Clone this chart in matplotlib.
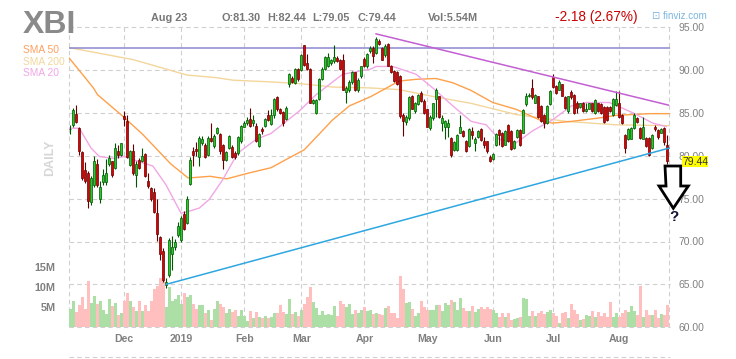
import numpy as np
import matplotlib
matplotlib.use('Agg')
import matplotlib.pyplot as plt
from matplotlib.patches import Polygon, Rectangle
from matplotlib.lines import Line2D

plt.rcParams['font.family'] = ['Liberation Sans', 'DejaVu Sans']

# month ticks (trading-day index of first session in month)
months = ['Dec', '2019', 'Feb', 'Mar', 'Apr', 'May', 'Jun', 'Jul', 'Aug']
month_idx = [18, 37, 58, 77, 98, 119, 141, 161, 183]

# daily OHLC, Nov 6 2018 .. Aug 23 2019
opens = [83.1, 83.6, 84.9, 83.2, 80.4, 78.3, 78.0, 74.6, 76.6, 79.0,
         75.0, 76.9, 76.9, 79.0, 79.4, 78.6, 80.5, 80.1, 84.6, 84.1,
         78.9, 80.5, 77.8, 79.5, 79.4, 80.2, 77.1, 76.2, 75.8, 73.3,
         70.5, 68.9, 64.9, 66.1, 68.6, 69.4, 70.8, 70.2, 73.2, 72.2,
         76.7, 80.5, 80.8, 79.9, 81.5, 81.2, 80.1, 82.1, 81.1, 82.7,
         82.5, 81.3, 79.5, 80.9, 81.0, 80.3, 80.3, 81.7, 83.4, 83.8,
         84.3, 83.8, 83.5, 81.1, 83.1, 83.5, 84.8, 83.7, 84.8, 86.8,
         85.4, 85.1, 84.3, 88.3, 89.0, 88.5, 90.1, 90.0, 92.9, 90.8,
         90.1, 86.2, 85.0, 86.6, 88.9, 90.1, 90.4, 90.8, 91.0, 91.4,
         91.2, 91.2, 87.4, 87.6, 88.6, 89.7, 87.6, 89.3, 91.3, 90.4,
         92.2, 92.5, 92.0, 93.4, 92.5, 91.7, 93.0, 90.5, 89.9, 89.8,
         89.3, 84.8, 83.9, 84.4, 87.0, 85.2, 86.0, 87.3, 86.4, 85.4,
         83.2, 84.4, 86.6, 86.9, 83.8, 83.4, 83.4, 82.1, 80.7, 80.7,
         82.7, 82.9, 81.7, 81.1, 82.9, 81.5, 82.2, 83.1, 81.7, 81.7,
         79.9, 79.6, 81.2, 83.0, 82.7, 81.3, 83.6, 82.9, 80.9, 82.2,
         83.0, 82.7, 86.0, 86.9, 87.9, 86.2, 86.9, 85.8, 84.8, 83.8,
         86.0, 89.2, 88.1, 87.7, 88.3, 86.8, 85.2, 87.4, 87.1, 86.2,
         85.7, 86.2, 85.2, 85.5, 86.1, 85.0, 86.1, 86.0, 85.7, 85.7,
         85.7, 84.7, 85.9, 86.1, 84.8, 82.4, 81.9, 82.0, 83.2, 84.4,
         83.2, 82.0, 82.1, 82.1, 80.9, 83.4, 83.0, 82.7, 83.2, 81.30]
highs = [83.6, 85.6, 85.9, 83.3, 80.6, 79.3, 78.2, 77.6, 80.0, 79.6,
         77.0, 78.4, 79.6, 80.1, 79.4, 81.5, 81.3, 81.5, 85.2, 84.8,
         80.7, 81.4, 79.4, 79.7, 80.9, 80.3, 78.0, 76.4, 76.2, 75.0,
         70.6, 69.2, 65.8, 70.4, 70.6, 70.3, 72.3, 73.0, 73.6, 75.3,
         79.8, 81.0, 81.6, 82.3, 82.3, 81.5, 82.3, 83.8, 82.5, 83.3,
         82.7, 81.4, 80.5, 82.4, 81.3, 80.5, 82.3, 83.6, 84.0, 84.5,
         85.6, 84.7, 83.8, 82.6, 83.4, 84.4, 85.3, 85.4, 86.7, 87.0,
         85.6, 85.2, 85.8, 89.6, 89.3, 90.2, 90.2, 91.8, 92.9, 91.8,
         90.2, 86.6, 86.6, 89.0, 90.3, 91.6, 92.0, 91.3, 92.9, 91.6,
         91.3, 91.8, 88.1, 88.8, 89.9, 89.8, 89.0, 90.5, 91.5, 92.0,
         92.8, 92.8, 93.8, 93.6, 92.7, 93.0, 93.1, 90.6, 90.0, 89.9,
         89.4, 85.0, 84.8, 86.9, 87.1, 86.3, 87.2, 87.5, 86.6, 85.5,
         84.7, 86.2, 87.9, 87.0, 84.8, 84.2, 84.3, 82.2, 81.7, 82.5,
         84.8, 83.0, 81.8, 83.2, 83.3, 82.2, 83.0, 83.2, 82.2, 81.7,
         80.1, 80.3, 82.6, 83.1, 82.8, 83.0, 83.7, 83.0, 81.8, 83.1,
         83.1, 85.4, 87.3, 87.3, 88.9, 87.2, 87.0, 85.9, 84.9, 85.9,
         87.6, 89.5, 88.2, 88.8, 88.4, 86.9, 86.9, 87.7, 87.2, 86.4,
         86.2, 86.3, 86.2, 86.2, 86.2, 86.6, 86.2, 86.1, 85.8, 85.8,
         85.8, 86.7, 87.5, 87.5, 84.9, 82.5, 83.2, 83.3, 85.0, 84.5,
         83.3, 84.5, 82.2, 82.2, 82.5, 83.6, 83.1, 83.2, 83.3, 82.44]
lows = [82.5, 83.4, 83.8, 80.1, 77.2, 76.8, 73.9, 74.3, 76.4, 76.4,
        74.5, 76.6, 76.6, 78.8, 77.5, 78.4, 79.7, 80.0, 83.5, 79.7,
        78.8, 77.8, 76.4, 78.4, 79.3, 77.5, 76.2, 74.7, 73.3, 70.0,
        67.8, 65.3, 64.6, 65.9, 66.7, 69.0, 70.5, 69.9, 71.3, 72.0,
        76.6, 78.8, 80.0, 78.8, 81.2, 79.7, 80.0, 81.6, 80.9, 82.5,
        80.2, 78.4, 79.4, 80.8, 79.7, 79.6, 80.1, 81.5, 83.3, 83.6,
        83.3, 83.5, 81.6, 81.0, 82.5, 83.4, 84.0, 83.6, 84.4, 85.2,
        84.9, 83.5, 84.2, 88.0, 88.5, 88.3, 88.7, 89.9, 90.5, 90.0,
        86.1, 86.0, 84.9, 86.5, 88.8, 90.0, 90.3, 90.6, 90.8, 90.9,
        90.0, 87.6, 86.2, 87.4, 88.4, 87.5, 87.4, 89.1, 90.3, 90.2,
        92.0, 90.8, 91.9, 92.9, 91.1, 91.5, 90.4, 89.6, 88.6, 88.2,
        84.4, 82.3, 83.6, 84.2, 85.4, 85.0, 85.9, 86.3, 84.9, 83.3,
        83.0, 84.2, 84.5, 84.4, 82.9, 81.9, 82.2, 79.9, 80.5, 80.6,
        82.6, 82.2, 80.4, 81.0, 81.9, 80.5, 82.1, 81.7, 80.9, 80.3,
        79.3, 79.5, 81.1, 81.2, 81.0, 81.2, 81.6, 80.7, 80.8, 82.1,
        81.1, 82.6, 85.8, 86.8, 86.6, 86.1, 84.4, 83.9, 83.2, 83.7,
        85.9, 87.9, 87.2, 87.6, 86.9, 85.5, 85.0, 86.6, 84.9, 85.0,
        85.6, 85.1, 85.1, 85.4, 85.1, 84.9, 85.1, 84.9, 83.8, 84.1,
        85.1, 84.6, 85.8, 84.4, 83.7, 80.3, 81.8, 81.9, 83.1, 83.8,
        82.0, 81.9, 81.0, 80.0, 80.8, 82.9, 81.9, 82.6, 81.3, 79.05]
closes = [83.15, 85.3, 83.9, 80.5, 77.4, 77.0, 74.7, 77.4, 79.4, 76.6,
          76.4, 77.8, 78.0, 79.7, 77.8, 80.9, 80.1, 81.5, 84.3, 79.9,
          80.5, 78.0, 79.0, 78.6, 80.0, 77.6, 76.5, 74.9, 73.4, 70.9,
          68.5, 65.5, 65.3, 70.2, 69.4, 70.0, 71.8, 72.7, 71.5, 75.0,
          79.5, 80.1, 80.5, 82.1, 82.0, 79.8, 82.1, 81.7, 82.3, 83.2,
          80.5, 79.5, 80.4, 82.3, 79.9, 79.8, 82.2, 83.5, 83.8, 84.2,
          83.5, 84.2, 81.7, 82.5, 82.9, 84.3, 84.2, 84.7, 86.6, 85.4,
          85.0, 83.8, 85.6, 89.5, 88.6, 90.1, 88.9, 91.7, 90.6, 90.1,
          86.2, 86.5, 86.5, 88.9, 90.1, 91.5, 91.5, 91.2, 91.5, 91.0,
          90.1, 87.7, 87.9, 88.6, 89.7, 87.7, 88.8, 90.4, 90.4, 91.8,
          92.6, 91.6, 93.6, 93.0, 91.2, 92.8, 90.5, 89.7, 88.7, 88.4,
          84.6, 84.0, 84.5, 86.8, 85.5, 86.2, 87.1, 86.4, 85.0, 83.4,
          84.5, 86.1, 87.7, 84.5, 84.4, 84.1, 83.8, 80.1, 81.6, 82.4,
          83.4, 82.3, 80.5, 83.1, 82.4, 81.9, 82.9, 81.8, 81.3, 80.5,
          79.4, 80.2, 82.5, 82.4, 81.1, 82.9, 81.7, 80.8, 81.7, 83.0,
          81.2, 85.3, 86.9, 87.1, 86.8, 87.1, 84.5, 84.0, 83.8, 85.8,
          87.5, 88.0, 87.3, 88.6, 87.0, 85.6, 86.9, 86.8, 85.0, 85.6,
          86.1, 85.2, 85.5, 86.1, 85.2, 86.5, 85.2, 85.0, 83.9, 84.2,
          85.2, 86.6, 86.6, 84.5, 83.8, 80.9, 83.1, 83.2, 84.8, 83.9,
          82.1, 83.4, 81.1, 80.1, 82.4, 83.1, 82.2, 83.1, 81.62, 79.44]
# volume, millions of shares
volume = [4.5, 6.6, 3.9, 5.6, 7.6, 4.6, 11.7, 6.2, 7.9, 5.9,
          6.6, 4.4, 3.4, 7.1, 5.4, 6.2, 3.1, 3.7, 6.5, 8.7,
          6.5, 5.2, 4.1, 6.5, 4.1, 5.6, 4.2, 6.5, 9.6, 10.4,
          12.4, 11.9, 5.2, 10.0, 6.5, 7.1, 8.2, 5.9, 8.6, 7.7,
          8.2, 5.8, 4.5, 5.6, 5.6, 3.5, 4.4, 1.8, 4.5, 6.7,
          5.9, 5.0, 3.5, 4.5, 3.9, 4.4, 2.9, 4.4, 2.9, 1.7,
          4.2, 2.4, 3.9, 2.7, 2.3, 2.9, 2.3, 2.7, 3.7, 3.5,
          5.6, 3.9, 3.4, 7.1, 3.4, 3.9, 2.9, 4.4, 5.9, 7.6,
          10.1, 6.3, 4.8, 3.1, 4.1, 3.1, 3.4, 3.1, 5.4, 2.9,
          6.5, 5.9, 5.2, 5.9, 3.4, 4.4, 3.5, 4.4, 5.0, 4.0,
          4.4, 3.3, 3.5, 3.3, 3.0, 4.8, 5.4, 3.7, 3.7, 2.3,
          12.8, 9.7, 6.2, 6.4, 4.6, 2.9, 3.7, 6.6, 5.0, 4.4,
          4.4, 4.4, 5.6, 5.6, 4.1, 6.1, 5.6, 6.9, 6.3, 4.4,
          7.3, 4.8, 4.2, 4.1, 5.4, 3.9, 4.5, 5.0, 4.5, 5.0,
          4.5, 4.4, 3.5, 2.7, 3.5, 2.7, 3.7, 1.8, 2.0, 2.4,
          2.7, 7.3, 7.1, 2.9, 4.1, 2.9, 3.7, 4.1, 3.3, 3.9,
          4.4, 3.5, 2.9, 1.2, 3.7, 3.8, 2.3, 5.9, 4.4, 3.4,
          1.8, 2.0, 3.1, 2.9, 4.1, 2.7, 3.9, 2.9, 3.7, 2.7,
          6.3, 2.7, 3.7, 2.7, 3.7, 4.4, 3.9, 5.4, 4.1, 3.1,
          10.4, 2.7, 4.4, 3.1, 3.1, 4.4, 2.4, 3.4, 3.0, 5.54]

# moving averages (day index, value)
sma200_idx = [-0.4, 20.9, 31.9, 38.9, 48.6, 54.2, 66.9, 76.6, 87.6, 99.9, 109.6,
              120.9, 133.6, 148.6, 165.2, 181.9, 199.6]
sma200_val = [92.6, 91.2, 90.1, 89.4, 89.1, 88.8, 88.6, 88.4, 88.0, 87.9, 87.7,
              86.9, 86.1, 84.8, 84.0, 83.6, 83.5]
sma50_idx = [-0.4, 7.7, 9.1, 17.5, 24.1, 33.6, 39.3, 46.6, 52.1, 59.7, 66.9, 78.0,
             87.5, 93.0, 100.2, 109.6, 115.2, 121.9, 127.5, 133.6, 140.8, 148.6,
             157.5, 160.8, 167.0, 176.3, 181.9, 193.0, 199.6]
sma50_val = [91.4, 87.9, 87.1, 84.6, 82.5, 79.0, 77.4, 77.6, 77.3, 78.0, 78.6, 80.7,
             84.2, 85.8, 86.9, 88.7, 88.9, 89.0, 88.5, 87.6, 86.2, 85.4,
             84.0, 83.8, 84.0, 84.4, 84.7, 84.9, 84.9]
sma20_idx = [-0.4, 3.0, 6.9, 9.7, 14.1, 18.0, 23.0, 27.5, 31.9, 36.9, 39.3, 43.0,
             46.3, 50.8, 55.8, 61.9, 66.9, 76.3, 81.9, 90.8, 100.2, 101.9, 107.5,
             115.2, 120.8, 127.5, 133.6, 138.6, 143.0, 148.6, 154.1, 160.8, 167.0,
             171.9, 179.7, 187.5, 194.1, 198.6]
sma20_val = [83.2, 83.2, 80.9, 79.9, 79.7, 79.9, 79.3, 78.8, 76.6, 73.3, 73.5, 73.9,
             74.9, 77.2, 80.3, 81.9, 82.6, 85.2, 87.1, 89.5, 90.1, 90.4, 90.4,
             89.5, 87.9, 85.8, 84.0, 83.6, 81.9, 81.5, 82.9, 84.2, 85.8,
             86.2, 86.2, 85.0, 83.8, 83.4]

# hand drawn trend lines
resist_level = 92.5
down_x, down_y = [101.9, 199.3], [94.2, 85.9]
up_x, up_y = [31.9, 199.7], [65.0, 80.9]

W, H = 736, 359
fig = plt.figure(figsize=(W / 100, H / 100), dpi=100)


def fp(px, py):
    return px / W, 1 - py / H


left, right, top, bottom = 69, 669.5, 27, 327.3
rect = [left / W, 1 - bottom / H, (right - left) / W, (bottom - top) / H]
XMIN, XMAX = -0.43, 199.7
PMIN, PMAX = 60, 95
VMAX = 75.1

o = np.array(opens); h = np.array(highs); l = np.array(lows); c = np.array(closes)
x = np.arange(len(c))
up = c >= o

ax_v = fig.add_axes(rect)
ax = fig.add_axes(rect, sharex=ax_v)
ax.patch.set_visible(False)
for a in (ax, ax_v):
    for s in a.spines.values():
        s.set_visible(False)

grid_kw = dict(color='#cfcfcf', lw=0.8, ls=(0, (4, 3)), zorder=0, clip_on=False)
for p in range(60, 96, 5):
    ax_v.axhline((p - PMIN) / (PMAX - PMIN) * VMAX, **grid_kw)
for m in month_idx + [XMIN, XMAX]:
    ax_v.axvline(m, **grid_kw)

# volume
vcol = np.where(up, '#abdfa6', '#ffbfbf')
ax_v.bar(x, volume, width=0.92, color=vcol, zorder=1)
ax_v.set_ylim(0, VMAX)
ax_v.set_xlim(XMIN, XMAX)
ax_v.set_yticks([5, 10, 15], ['5M', '10M', '15M'])
ax_v.tick_params(axis='y', length=0, pad=9.5, labelcolor='#808080', labelsize=7.8)
ax_v.set_xticks(month_idx, months)
ax_v.tick_params(axis='x', length=0, pad=4.5, labelcolor='#808080', labelsize=7.6)
for t in ax_v.get_yticklabels() + ax_v.get_xticklabels():
    t.set_fontweight('bold')

# price
ax.set_ylim(PMIN, PMAX)
ax.yaxis.tick_right()
ax.set_yticks(range(60, 96, 5), [f'{p:.2f}' for p in range(60, 96, 5)])
ax.tick_params(axis='y', length=0, pad=6.5, labelcolor='#808080', labelsize=7.5)
ax.tick_params(axis='x', bottom=False, labelbottom=False)

ax.plot(sma200_idx, sma200_val, color='#f3d69c', lw=1.0, zorder=2)
ax.plot(sma50_idx, sma50_val, color='#ffa04a', lw=1.0, zorder=2)
ax.plot(sma20_idx, sma20_val, color='#f2a6e6', lw=1.0, zorder=2)
ax.axhline(resist_level, color='#8a88d0', lw=1.1, zorder=2)
ax.plot(down_x, down_y, color='#c35fd3', lw=1.1, zorder=5)
ax.plot(up_x, up_y, color='#2ea6e0', lw=1.1, zorder=5)

body_lo = np.minimum(o, c)
body_h = np.maximum(np.abs(c - o), 0.07)
face = np.where(up, '#22cc22', '#dd0000')
edge = np.where(up, '#005500', '#660000')
ax.vlines(x, l, h, colors=edge, lw=0.8, zorder=3)
ax.bar(x, body_h, bottom=body_lo, width=0.7, color=face, edgecolor=edge,
       linewidth=0.5, zorder=4)

# header
fig.text(*fp(23, 25), 'XBI', fontsize=23, fontweight='bold', color='#8a8a8a', va='center')
hdr = dict(fontsize=7.8, fontweight='bold', color='#777777', va='center')
fig.text(*fp(151, 18), 'Aug 23', **hdr)
fig.text(*fp(221.7, 18), 'O:81.30', **hdr)
fig.text(*fp(267.7, 18), 'H:82.44', **hdr)
fig.text(*fp(312.3, 18), 'L:79.05', **hdr)
fig.text(*fp(357.3, 18), 'C:79.44', **hdr)
fig.text(*fp(428.3, 18), 'Vol:5.54M', **hdr)
fig.text(*fp(555, 17), '-2.18 (2.67%)', fontsize=9.8, color='#cc0000', va='center')
fig.text(*fp(652, 16), '⊡ finviz.com', fontsize=7.1, color='#7ab5e0', va='center')

fig.text(*fp(22.7, 50), 'SMA 50', fontsize=7.35, color='#ffa060', va='center')
fig.text(*fp(22.7, 62), 'SMA 200', fontsize=7.35, color='#f3d69c', va='center')
fig.text(*fp(22.7, 73.5), 'SMA 20', fontsize=7.35, color='#f2a6e6', va='center')
fig.text(*fp(50, 158), 'DAILY', fontsize=9, fontweight='bold', color='#d6d6d6',
         rotation=90, ha='center', va='center')

# last price tag
lx, ly = fp(681.7, 167.3)
fig.add_artist(Rectangle((lx, ly), 26.6 / W, 11.3 / H, transform=fig.transFigure,
                         facecolor='#ffff00', edgecolor='none', zorder=5))
fig.text(*fp(695, 161.6), f'{closes[-1]:.2f}', fontsize=7.5, color='#333333',
         ha='center', va='center', zorder=6)

# drawn arrow with question mark
arrow_px = [(665, 166), (680.7, 166), (680.7, 186), (688.3, 186), (673.3, 208.3),
            (659, 186), (666, 186)]
fig.add_artist(Polygon([fp(*p) for p in arrow_px], closed=True, transform=fig.transFigure,
                       facecolor='white', edgecolor='black', lw=2.0, joinstyle='miter',
                       zorder=7))
fig.text(*fp(673.5, 217), '?', fontsize=11, fontweight='bold', color='#111133',
         ha='center', va='center', zorder=8)

# top of next panel
fig.add_artist(Line2D([left / W, right / W], [1 - 357.3 / H] * 2, color='#cfcfcf',
                      lw=0.8, ls=(0, (4, 3))))

fig.savefig('out.png', dpi=100)
